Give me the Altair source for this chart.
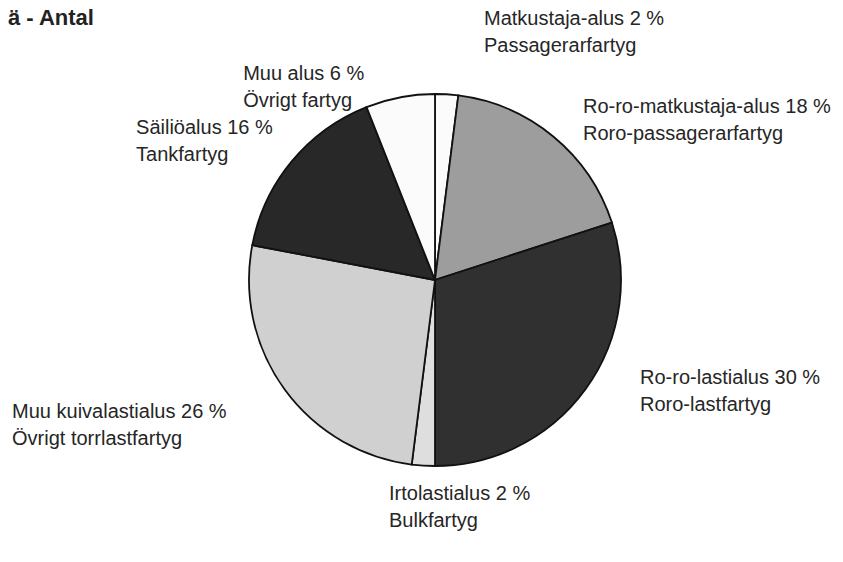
import altair as alt
import pandas as pd

# --- data ---
fi_names = ["Matkustaja-alus", "Ro-ro-matkustaja-alus", "Ro-ro-lastialus",
            "Irtolastialus", "Muu kuivalastialus", "Säiliöalus", "Muu alus"]
sv_names = ["Passagerarfartyg", "Roro-passagerarfartyg", "Roro-lastfartyg",
            "Bulkfartyg", "Övrigt torrlastfartyg", "Tankfartyg", "Övrigt fartyg"]
shares = [2, 18, 30, 2, 26, 16, 6]

# --- styling / layout (not data) ---
fills = ["#fbfbfb", "#9d9d9d", "#303030", "#dedede", "#d0d0d0", "#282828", "#fbfbfb"]
label_angle_deg = [10.88, 41.55, 116.90, 191.81, 251.93, 296.03, 316.2]
label_radius = [259.7, 223.1, 229.9, 224.8, 444.9, 332.7, 277.2]
CX, CY, R = 427, 272, 186

order = list(range(len(shares)))
df = pd.DataFrame({
    "fi": fi_names,
    "sv": sv_names,
    "share": shares,
    "order": order,
})
df["label"] = df["fi"] + " " + df["share"].astype(str) + " %\n" + df["sv"]
df["la"] = [a * 3.141592653589793 / 180 for a in label_angle_deg]
df["lr"] = label_radius

base = alt.Chart(df)

pie = base.mark_arc(stroke="#111111", strokeWidth=1.8, outerRadius=R).encode(
    theta=alt.Theta("share:Q", stack=True),
    order=alt.Order("order:Q"),
    color=alt.Color("fi:N", scale=alt.Scale(domain=fi_names, range=fills), legend=None),
    x=alt.value(CX),
    y=alt.value(CY),
)

labels = base.mark_text(
    align="left", baseline="alphabetic", lineBreak="\n", lineHeight=27,
    font="Liberation Sans", fontSize=20, color="#262626",
).encode(
    theta=alt.Theta("la:Q", scale=None),
    radius=alt.Radius("lr:Q", scale=None),
    text="label:N",
    x=alt.value(CX),
    y=alt.value(CY),
)

title = alt.Chart(pd.DataFrame({"t": ["ä - Antal"]})).mark_text(
    align="left", baseline="alphabetic", font="Liberation Sans",
    fontSize=22, fontWeight="bold", color="#222222",
).encode(text="t:N", x=alt.value(0), y=alt.value(17))

chart = alt.layer(pie, labels, title).resolve_scale(theta="independent").properties(
    width=827, height=546, padding=0, autosize=alt.AutoSizeParams(type="none"),
).configure_view(stroke=None)

chart.save("out.html", embed_options={"renderer": "svg", "actions": False})
